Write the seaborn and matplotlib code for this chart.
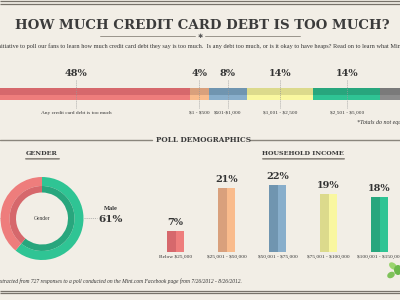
import matplotlib
matplotlib.use("Agg")
import matplotlib.pyplot as plt
import seaborn as sns
import pandas as pd
import numpy as np
from matplotlib.patches import Ellipse

# ---------------- data ----------------
debt_labels = ["Any credit card debt is too much", "$1 - $500", "$501-$1,000",
               "$1,001 - $2,500", "$2,501 - $5,000", "$5,001+"]
debt_pct = [48, 4, 8, 14, 14, 12]
debt_show = [True, True, True, True, True, False]

gender_labels = ["Male", "Female"]
gender_pct = [61, 39]

income_labels = ["Below $25,000", "$25,001 - $50,000", "$50,001 - $75,000",
                 "$75,001 - $100,000", "$100,001 - $150,000"]
income_pct = [7, 21, 22, 19, 18]

# ---------------- style ----------------
BG = "#f2eee6"
TXT = "#333333"
light = ["#ee7d7c", "#f9bb8c", "#88aecb", "#f9f7a0", "#2fc494", "#8c8c8c"]
dark = ["#d6686c", "#d9a07c", "#7095b0", "#dcda8c", "#28a67d", "#7a7a7a"]

sns.set_theme(style="white")
plt.rcParams["font.family"] = ["DejaVu Serif", "DejaVu Sans"]
plt.rcParams["text.parse_math"] = False

fig = plt.figure(figsize=(4, 3), dpi=100, facecolor=BG)

# overlay (pixel coordinates)
ov = fig.add_axes([0, 0, 1, 1])
ov.set_xlim(0, 400)
ov.set_ylim(300, 0)
ov.axis("off")
ov.set_facecolor("none")

LINE = "#77726a"
for y in (1.2, 4.2, 290.5, 293.2):
    ov.plot([0, 400], [y, y], color=LINE, lw=0.9, solid_capstyle="butt")

ov.text(202, 25.5, "HOW MUCH CREDIT CARD DEBT IS TOO MUCH?", ha="center", va="center",
        fontsize=9.6, fontweight="bold", color="#3b3b3b", family="DejaVu Serif")
ov.plot([100, 195], [36, 36], color="#8a857c", lw=0.6)
ov.plot([205, 300], [36, 36], color="#8a857c", lw=0.6)
ov.text(200, 36.5, "\u2731", ha="center", va="center", fontsize=4.5, color="#555555",
        family="DejaVu Sans")
ov.text(-4, 46, "initiative to poll our fans to learn how much credit card debt they say is too much.  "
        "Is any debt too much, or is it okay to have heaps? Read on to learn what Mint.com users think.",
        ha="left", va="center", fontsize=4.5, color=TXT, family="Liberation Serif")

# section header
ov.plot([0, 152], [139.5, 139.5], color="#8a857c", lw=1.0)
ov.plot([250, 400], [139.5, 139.5], color="#8a857c", lw=1.0)
ov.text(203, 139.5, "POLL DEMOGRAPHICS", ha="center", va="center", fontsize=5.2,
        fontweight="bold", color="#3b3b3b", family="DejaVu Serif")

for (cx, label, w) in [(42, "GENDER", 34), (303, "HOUSEHOLD INCOME", 82)]:
    ov.text(cx, 153.5, label, ha="center", va="center", fontsize=4.6, fontweight="bold",
            color="#3b3b3b", family="DejaVu Serif")
    ov.plot([cx - w / 2, cx + w / 2], [157.6, 157.6], color="#77726a", lw=0.6)
    ov.plot([cx - w / 2, cx + w / 2], [159.0, 159.0], color="#77726a", lw=0.4)

ov.text(242, 281, "Data extracted from 727 responses to a poll conducted on the Mint.com Facebook page "
        "from 7/26/2012 - 8/26/2012.", ha="right", va="center", fontsize=4.0, style="italic",
        color=TXT, family="Liberation Serif")
ov.text(357, 122.5, "*Totals do not equal 100%", ha="left", va="center", fontsize=4.3,
        style="italic", color=TXT, family="Liberation Serif")

# leaf logo (decoration)
for (x, y, w, h, a, c) in [(393, 266, 9, 6, 40, "#9ad46e"), (391, 275, 8, 6, -30, "#7fc25a"),
                           (398, 270, 8, 10, 0, "#6cb84c")]:
    ov.add_patch(Ellipse((x, y), w, h, angle=a, color=c, lw=0))

# ---------------- stacked debt bar ----------------
PX_PER_PCT = 4.75
x0 = 8.0
sb = fig.add_axes([0, 1 - 125 / 300, 1, 60 / 300])
sb.set_facecolor("none")
sb.set_xlim(x0, x0 + 400 / PX_PER_PCT)
sb.set_ylim(125, 65)
sb.axis("off")
left = 0.0
for i, v in enumerate(debt_pct):
    sb.barh(91.5, v, left=left, height=7, color=dark[i], lw=0, align="center")
    sb.barh(97.5, v, left=left, height=5, color=light[i], lw=0, align="center")
    c = left + v / 2
    if debt_show[i]:
        sb.plot([c, c], [80, 108], color="#999999", lw=0.5, ls=(0, (1.5, 1.5)), zorder=3)
        sb.text(c, 73, f"{v}%", ha="center", va="center", fontsize=7, fontweight="bold",
                color="#333333", family="DejaVu Serif")
        sb.text(c, 113, debt_labels[i], ha="center", va="center", fontsize=3.9,
                color=TXT, family="Liberation Serif")
    left += v

# ---------------- gender donut ----------------
R = 41.5
da = fig.add_axes([0.5 / 400, 1 - 260 / 300, 83 / 400, 83 / 300])
da.set_facecolor("none")
gcol_l = [light[4], light[0]]
gcol_d = [dark[4], dark[0]]
da.pie(gender_pct, radius=1.0, colors=gcol_l, startangle=90, counterclock=False,
       wedgeprops=dict(width=9 / R, lw=0))
da.pie(gender_pct, radius=32.5 / R, colors=gcol_d, startangle=90, counterclock=False,
       wedgeprops=dict(width=6.5 / R, lw=0))
da.set_xlim(-1, 1)
da.set_ylim(-1, 1)
da.text(0, 0, "Gender", ha="center", va="center", fontsize=4, color=TXT, family="Liberation Serif")

ov.plot([84, 97], [218, 218], color="#999999", lw=0.5, ls=(0, (1.5, 1.5)))
ov.plot([-2, 1], [218, 218], color="#999999", lw=0.5, ls=(0, (1.5, 1.5)))
ov.text(111, 209, gender_labels[0], ha="center", va="center", fontsize=4.6, fontweight="bold",
        color="#333333", family="Liberation Serif")
ov.text(111, 219.5, f"{gender_pct[0]}%", ha="center", va="center", fontsize=7.5,
        fontweight="bold", color="#333333", family="DejaVu Serif")

# ---------------- household income bars ----------------
PX_PER_IPCT = 3.05
ib = fig.add_axes([150 / 400, 1 - 252 / 300, 255 / 400, 92 / 300])
ib.set_facecolor("none")
df = pd.DataFrame({
    "income": income_labels * 2,
    "pct": income_pct * 2,
    "shade": ["dark"] * len(income_labels) + ["light"] * len(income_labels),
})
sns.barplot(data=df, x="income", y="pct", hue="shade", hue_order=["dark", "light"],
            order=income_labels, dodge=True, width=0.34, gap=0, legend=False,
            saturation=1, ax=ib, errorbar=None)
for ci, cont in enumerate(ib.containers):
    cols = dark if ci == 0 else light
    for j, bar in enumerate(cont):
        bar.set_facecolor(cols[j])
        bar.set_edgecolor("none")
ib.set_xlim(-0.5, len(income_labels) - 0.5)
ib.set_ylim(0, 92 / PX_PER_IPCT)
ib.axis("off")
for j, v in enumerate(income_pct):
    ib.text(j, v + 2.7, f"{v}%", ha="center", va="center", fontsize=7, fontweight="bold",
            color="#333333", family="DejaVu Serif")
    ib.text(j, -1.7, income_labels[j], ha="center", va="center", fontsize=3.9,
            color=TXT, family="Liberation Serif", clip_on=False)

fig.savefig("out.png", dpi=100, facecolor=BG)
